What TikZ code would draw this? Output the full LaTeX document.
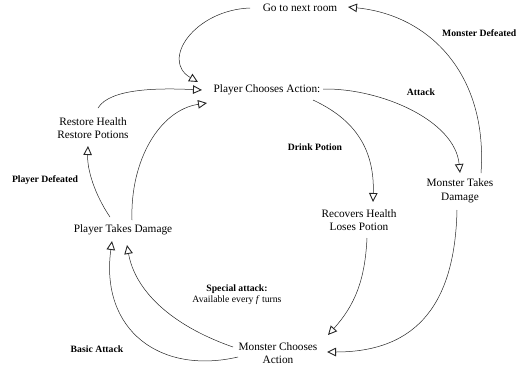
\documentclass[tikz,border=0pt]{standalone}
\usepackage{fontspec}
\setmainfont{Liberation Serif}
\usetikzlibrary{arrows.meta}
\begin{document}
\begin{tikzpicture}[x=1pt,y=-1pt,
  state/.style={inner sep=0pt,align=center,font=\fontsize{11.3}{13.6}\selectfont},
  lbl/.style={inner sep=0pt,align=center,font=\fontsize{9.7}{12}\selectfont\bfseries},
  flow/.style={draw=black!85,line width=0.5pt,-{Triangle[open,length=9pt,width=8.5pt,line width=0.9pt]}}]
\useasboundingbox (0,0) rectangle (517,373);
% states
\node[state] (goto) at (300,8) {Go to next room};
\node[state] (pca) at (267,90) {Player Chooses Action:};
\node[state] (rh) at (93,128) {Restore Health\\Restore Potions};
\node[state] (ptd) at (123,230) {Player Takes Damage};
\node[state] (mtd) at (460,191) {Monster Takes\\Damage};
\node[state] (rec) at (359,220) {Recovers Health\\Loses Potion};
\node[state] (mca) at (278,353) {Monster Chooses\\Action};
% labels
\node[lbl,anchor=east] (lmd) at (516.5,33) {Monster Defeated};
\node[lbl] (latk) at (421,92) {Attack};
\node[lbl] (ldp) at (315,147) {Drink Potion};
\node[lbl] (lpd) at (45,180) {Player Defeated};
\node[lbl] (lba) at (97,349) {Basic Attack};
\node[lbl] (lsa) at (237,295) {Special attack:\\[-1pt]{\mdseries Available every \textit{f} turns}};
% endpoints
\coordinate (gotoL) at (250,8);
\coordinate (gotoR) at (348,7);
\coordinate (pcaA) at (198,82);
\coordinate (pcaB) at (202,90);
\coordinate (pcaC) at (207,103);
\coordinate (pcaR) at (323,89);
\coordinate (pcaD) at (313,100);
\coordinate (rhT) at (98,108);
\coordinate (rhB) at (88,146);
\coordinate (ptdL) at (110,217);
\coordinate (ptdR) at (132,220);
\coordinate (ptdA) at (112,241);
\coordinate (ptdB) at (127,245);
\coordinate (mtdT) at (460,173);
\coordinate (mtdR) at (481,173);
\coordinate (mtdB) at (457,210);
\coordinate (recT) at (373,202);
\coordinate (recB) at (367,238);
\coordinate (mcaA) at (328,335);
\coordinate (mcaB) at (327,352);
\coordinate (mcaL) at (233,347);
\coordinate (mcaLb) at (238,357);
% connectors
\draw[flow] (gotoL) .. controls (195,10) and (160,60) .. (pcaA);
\draw[flow] (rhT) .. controls (110,88) and (160,88) .. (pcaB);
\draw[flow] (ptdR) .. controls (130,160) and (160,110) .. (pcaC);
\draw[flow] (pcaR) .. controls (380,88) and (455,120) .. (mtdT);
\draw[flow] (pcaD) .. controls (345,115) and (375,140) .. (recT);
\draw[flow] (mtdR) .. controls (488,75) and (430,15) .. (gotoR);
\draw[flow] (recB) .. controls (365,280) and (355,305) .. (mcaA);
\draw[flow] (mtdB) .. controls (455,300) and (420,352) .. (mcaB);
\draw[flow] (mcaL) .. controls (170,325) and (135,290) .. (ptdB);
\draw[flow] (mcaLb) .. controls (160,375) and (100,330) .. (ptdA);
\draw[flow] (ptdL) .. controls (95,195) and (87,170) .. (rhB);
\end{tikzpicture}
\end{document}
